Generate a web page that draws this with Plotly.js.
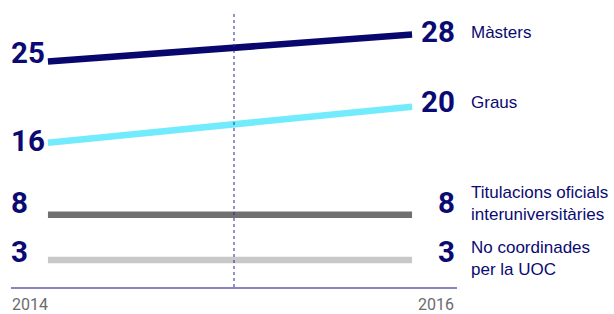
<!DOCTYPE html>
<html>
<head>
<meta charset="utf-8">
<script src="https://cdn.plot.ly/plotly-3.0.1.min.js"></script>
<style>html,body{margin:0;padding:0;background:#fff;}#chart{width:614px;height:314px;}</style>
</head>
<body>
<div id="chart"></div>
<script>
const years = [2014, 2016];
const yearLabels = ['2014', '2016'];
const categories = ['Màsters', 'Graus', 'Titulacions oficials<br>interuniversitàries', 'No coordinades<br>per la UOC'];
const values2014 = [25, 16, 8, 3];
const values2016 = [28, 20, 8, 3];

const lineColors = ['#07076e', '#72ebfd', '#707070', '#c8c8c8'];
const navy = '#0a0a72';
const numFont = 'Roboto, Liberation Sans, Arial, sans-serif';
const labelFont = 'Liberation Sans, Arial, sans-serif';
// vertical nudges (px) for text labels
const leftShift = [8.5, 2, 12, 8];
const rightShift = [2.5, 4.5, 12, 7.5];
const catShift = [2.5, 4, 11, 1.5];

const traces = categories.map((c, i) => ({
  x: years,
  y: [values2014[i], values2016[i]],
  mode: 'lines',
  line: {color: lineColors[i], width: 6.5},
  hoverinfo: 'skip',
  showlegend: false
}));

const annotations = [];
categories.forEach((c, i) => {
  annotations.push({xref: 'paper', yref: 'y', x: 0, y: values2014[i], xanchor: 'left', yanchor: 'middle',
    xshift: -2, yshift: leftShift[i], text: '<b>' + values2014[i] + '</b>', showarrow: false,
    font: {family: numFont, size: 29.5, color: navy}});
  annotations.push({xref: 'paper', yref: 'y', x: 1, y: values2016[i], xanchor: 'right', yanchor: 'middle',
    xshift: 0, yshift: rightShift[i], text: '<b>' + values2016[i] + '</b>', showarrow: false,
    font: {family: numFont, size: 29.5, color: navy}});
  annotations.push({xref: 'paper', yref: 'y', x: 1, y: values2016[i], xanchor: 'left', yanchor: 'middle',
    xshift: 12, yshift: catShift[i], text: c, align: 'left', showarrow: false,
    font: {family: labelFont, size: 17, color: navy}});
});
annotations.push({xref: 'paper', yref: 'paper', x: 0, y: 0, xanchor: 'left', yanchor: 'top', yshift: -6, xshift: -1,
  text: yearLabels[0], showarrow: false, font: {family: numFont, size: 16, color: '#6b6b6b'}});
annotations.push({xref: 'paper', yref: 'paper', x: 1, y: 0, xanchor: 'right', yanchor: 'top', yshift: -6, xshift: -1,
  text: yearLabels[1], showarrow: false, font: {family: numFont, size: 16, color: '#6b6b6b'}});

const layout = {
  width: 614, height: 314,
  margin: {l: 11, r: 157, t: 12, b: 27},
  paper_bgcolor: '#fff', plot_bgcolor: '#fff',
  xaxis: {range: [2013.797, 2016.247], showgrid: false, zeroline: false, showticklabels: false,
    ticks: '', showline: true, linecolor: '#8884c4', linewidth: 1.5, fixedrange: true},
  yaxis: {range: [0, 30.5], showgrid: false, zeroline: false, showticklabels: false, ticks: '',
    showline: false, fixedrange: true},
  shapes: [{type: 'line', xref: 'paper', yref: 'paper', x0: 0.5, x1: 0.5, y0: 0, y1: 1,
    line: {color: '#2a2a8a', width: 1, dash: 'dot'}}],
  annotations: annotations,
  showlegend: false
};

Plotly.newPlot('chart', traces, layout, {displayModeBar: false, staticPlot: true});
</script>
</body>
</html>
